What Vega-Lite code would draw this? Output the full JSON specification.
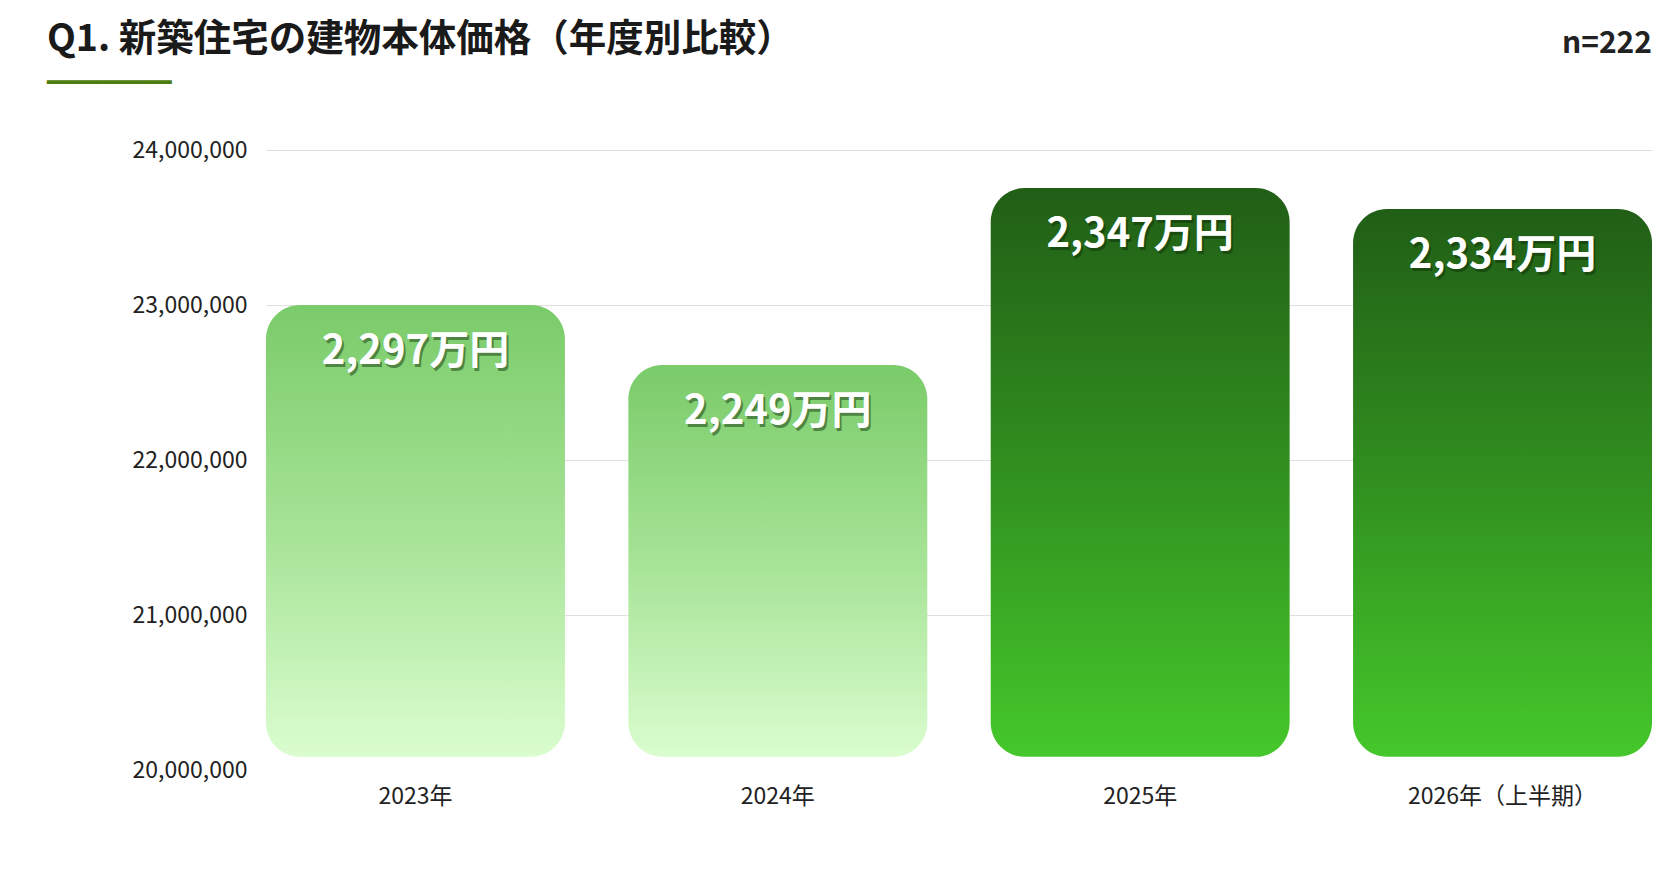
{
  "$schema": "https://vega.github.io/schema/vega-lite/v6.json",
  "background": "white",
  "width": 1386,
  "height": 620,
  "autosize": "none",
  "padding": {"left": 266, "top": 150, "right": 22, "bottom": 100},
  "config": {
    "view": {"stroke": null},
    "font": "Noto Sans CJK JP"
  },
  "title": {
    "text": "Q1. 新築住宅の建物本体価格（年度別比較）",
    "subtitle": "━━━━━━━━━",
    "anchor": "start",
    "frame": "group",
    "dx": -219,
    "offset": -66,
    "font": "Noto Sans CJK JP",
    "fontSize": 37.5,
    "fontWeight": "bold",
    "color": "#1a1a1a",
    "subtitleFont": "DejaVu Sans",
    "subtitleFontSize": 23,
    "subtitleColor": "#4d7c0f",
    "subtitlePadding": 13
  },
  "data": {
    "values": [
      {"year": "2023年", "value": 23000000, "label": "2,297万円", "period": "past", "note": ""},
      {"year": "2024年", "value": 22613000, "label": "2,249万円", "period": "past", "note": ""},
      {"year": "2025年", "value": 23755000, "label": "2,347万円", "period": "recent", "note": ""},
      {"year": "2026年（上半期）", "value": 23620000, "label": "2,334万円", "period": "recent", "note": "n=222"}
    ]
  },
  "encoding": {
    "x": {
      "field": "year",
      "type": "nominal",
      "sort": null,
      "scale": {"paddingInner": 0.175, "paddingOuter": 0},
      "axis": {
        "title": null,
        "labelAngle": 0,
        "labelFont": "Noto Sans CJK JP",
        "labelFontSize": 23,
        "labelColor": "#222222",
        "labelPadding": 15,
        "labelLimit": 400,
        "ticks": false,
        "domain": false
      }
    },
    "y": {
      "field": "value",
      "type": "quantitative",
      "scale": {"domain": [20000000, 24000000], "zero": false, "nice": false},
      "axis": {
        "title": null,
        "values": [20000000, 21000000, 22000000, 23000000, 24000000],
        "format": ",d",
        "labelFont": "Noto Sans CJK JP",
        "labelFontSize": 23,
        "labelColor": "#222222",
        "labelPadding": 19,
        "ticks": false,
        "domain": false,
        "gridColor": "#e0e0e0",
        "gridOpacity": {"condition": {"test": "datum.value === 20000000", "value": 0}, "value": 1}
      }
    }
  },
  "layer": [
    {
      "transform": [{"filter": "datum.period === 'past'"}],
      "mark": {
        "type": "bar",
        "cornerRadius": 34,
        "color": {
          "gradient": "linear",
          "x1": 0, "y1": 0, "x2": 0, "y2": 1,
          "stops": [
            {"offset": 0, "color": "#7acb69"},
            {"offset": 0.5, "color": "#a6e396"},
            {"offset": 1, "color": "#dafdcf"}
          ]
        }
      },
      "encoding": {"y2": {"datum": 20085000}}
    },
    {
      "transform": [{"filter": "datum.period === 'recent'"}],
      "mark": {
        "type": "bar",
        "cornerRadius": 34,
        "color": {
          "gradient": "linear",
          "x1": 0, "y1": 0, "x2": 0, "y2": 1,
          "stops": [
            {"offset": 0, "color": "#215e16"},
            {"offset": 0.5, "color": "#31901f"},
            {"offset": 1, "color": "#45c82b"}
          ]
        }
      },
      "encoding": {"y2": {"datum": 20085000}}
    },
    {
      "mark": {
        "type": "text",
        "font": "Noto Sans CJK JP",
        "fontSize": 40,
        "fontWeight": "bold",
        "baseline": "middle",
        "color": "#0d2b08",
        "opacity": 0.45,
        "dx": 2,
        "dy": 50
      },
      "encoding": {"text": {"field": "label"}}
    },
    {
      "mark": {
        "type": "text",
        "font": "Noto Sans CJK JP",
        "fontSize": 40,
        "fontWeight": "bold",
        "baseline": "middle",
        "color": "white",
        "dy": 47
      },
      "encoding": {"text": {"field": "label"}}
    },
    {
      "transform": [{"filter": "datum.note !== ''"}],
      "mark": {
        "type": "text",
        "font": "Noto Sans CJK JP",
        "fontSize": 30,
        "fontWeight": "bold",
        "align": "right",
        "baseline": "middle",
        "color": "#222222"
      },
      "encoding": {
        "x": {"field": "year", "type": "nominal", "sort": null, "bandPosition": 1},
        "y": {"datum": 24685000},
        "text": {"field": "note"}
      }
    }
  ]
}
